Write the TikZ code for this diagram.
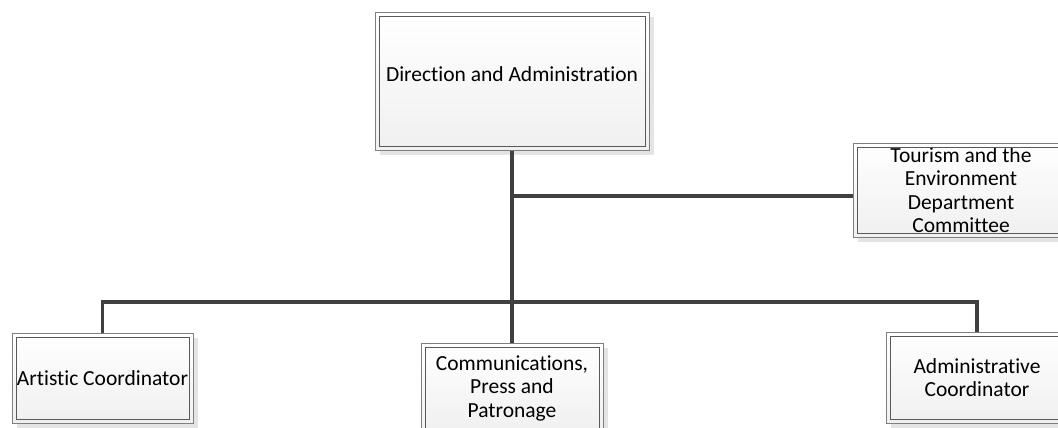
\documentclass[tikz,border=0pt]{standalone}
\usepackage{fontspec}
\setmainfont{Carlito}[Ligatures=NoCommon]
\usetikzlibrary{shadows}
\definecolor{linec}{HTML}{404040}
\definecolor{boxout}{HTML}{7F7F7F}
\definecolor{boxin}{HTML}{595959}
\definecolor{shadowc}{HTML}{E4E4E4}
\tikzset{
  orgbox/.style={draw=boxout, line width=1pt, top color=white, bottom color=black!6,
    general shadow={fill=shadowc, shadow xshift=4.5pt, shadow yshift=-4.5pt},
    align=center, inner sep=1pt, font=\fontsize{21.5}{23.5}\selectfont,
    minimum width=#1},
  conn/.style={draw=linec, line width=3.2pt},
}
\newcommand{\innerframe}[1]{\draw[boxin, line width=1pt] ([shift={(4.5pt,-4.5pt)}]#1.north west) rectangle ([shift={(-4.5pt,4.5pt)}]#1.south east);}
\begin{document}
\begin{tikzpicture}[x=1pt,y=-1pt]
\useasboundingbox (0,0) rectangle (1058,428);
\begin{scope}
\clip (0,0) rectangle (1058,428);
\node[orgbox=274pt, minimum height=137pt] (dir) at (512,81.5) {\raisebox{15pt}{Direction and Administration}};
\innerframe{dir}
\node[orgbox=216pt, minimum height=94pt] (tour) at (961,190) {Tourism and the\\Environment\\Department\\Committee};
\innerframe{tour}
\node[orgbox=181pt, minimum height=90pt] (art) at (102.5,378) {Artistic Coordinator};
\innerframe{art}
\node[orgbox=182pt, minimum height=90pt] (com) at (512,388) {Communications,\\Press and\\Patronage};
\innerframe{com}
\node[orgbox=182pt, minimum height=91pt] (adm) at (977,377.5) {Administrative\\Coordinator};
\innerframe{adm}
\coordinate (bus) at (512,302);
\coordinate (tj) at (512,196);
\draw[conn] (dir.south) -- (com.north);
\draw[conn] (tj) -- (tj -| tour.west);
\draw[conn] (art.north) |- (bus) -| (adm.north);
\end{scope}
\end{tikzpicture}
\end{document}
